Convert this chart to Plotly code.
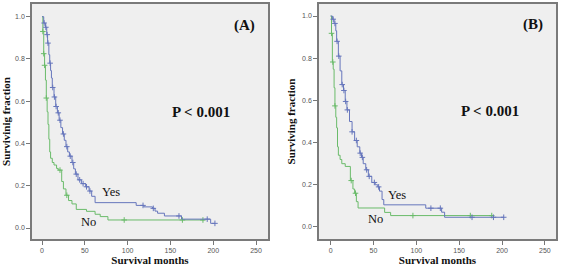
import numpy as np
import plotly.graph_objects as go

# ---------------- data ----------------
a_yes_t = [0, 2, 4, 5.5, 6.5, 8, 9, 10, 11, 12, 14, 16, 18, 20, 22, 24, 26, 28, 30, 32, 35, 37, 39, 42, 46, 51, 55, 58, 62, 110, 119, 129, 132, 135, 143, 163, 197, 202]
a_yes_s = [1.0, 0.97, 0.95, 0.915, 0.875, 0.82, 0.78, 0.745, 0.71, 0.665, 0.62, 0.575, 0.545, 0.51, 0.475, 0.445, 0.415, 0.385, 0.36, 0.34, 0.31, 0.28, 0.255, 0.228, 0.21, 0.195, 0.175, 0.15, 0.12, 0.107, 0.1, 0.093, 0.08, 0.07, 0.057, 0.042, 0.022, 0.022]
a_yes_cens = [2.5, 4.5, 6, 7, 9.5, 12.5, 14.5, 16.5, 19, 21, 25, 29, 33, 36, 40, 44, 48, 52, 56, 118, 130, 160, 193, 202]

a_no_t = [0, 1, 2, 3, 4, 5, 6, 7, 8, 9, 10, 12, 14, 17, 19, 23, 25, 28, 31, 35, 40, 52, 62, 68, 77, 190]
a_no_s = [1.0, 0.93, 0.825, 0.77, 0.70, 0.615, 0.55, 0.49, 0.42, 0.36, 0.33, 0.31, 0.298, 0.282, 0.274, 0.22, 0.185, 0.155, 0.13, 0.114, 0.088, 0.079, 0.065, 0.054, 0.038, 0.038]
a_no_cens = [1, 2, 3, 5, 21, 29, 96, 164, 188]

b_yes_t = [0, 2, 4, 6, 7, 9, 11, 13, 15, 17, 19, 22, 25, 28, 31, 34, 36, 38, 41, 44, 48, 52, 55, 57, 60, 62, 111, 129.5, 133, 202]
b_yes_s = [1.0, 0.985, 0.965, 0.93, 0.88, 0.81, 0.74, 0.675, 0.647, 0.595, 0.555, 0.5, 0.451, 0.41, 0.38, 0.35, 0.33, 0.30, 0.271, 0.24, 0.211, 0.2, 0.19, 0.17, 0.13, 0.105, 0.089, 0.07, 0.046, 0.046]
b_yes_cens = [3, 5, 7.5, 9.5, 13.5, 15.5, 17.5, 19.5, 25, 30, 34.5, 37, 42, 45, 51, 56, 117, 128, 165, 190, 202]

b_no_t = [0, 1, 2, 3, 4, 5, 6, 7, 8, 9, 11, 13, 17, 23, 26, 28, 30, 32, 63, 70, 190]
b_no_s = [1.0, 0.918, 0.782, 0.748, 0.66, 0.574, 0.52, 0.47, 0.38, 0.34, 0.32, 0.30, 0.287, 0.22, 0.18, 0.16, 0.12, 0.09, 0.069, 0.054, 0.054]
b_no_cens = [1, 2.5, 5, 24, 29, 96, 163, 188]

x_ticks = [0, 50, 100, 150, 200, 250]
y_ticks = [0.0, 0.2, 0.4, 0.6, 0.8, 1.0]
y_tick_text = ["0.0", "0.2", "0.4", "0.6", "0.8", "1.0"]

BLUE = "#6676bc"
GREEN = "#6abb6a"


def step_at(times, surv, t):
    idx = np.searchsorted(np.array(times), np.array(t), side="right") - 1
    return list(np.array(surv)[idx])


fig = go.Figure()

panels = [
    ("x", "y", a_yes_t, a_yes_s, a_yes_cens, a_no_t, a_no_s, a_no_cens),
    ("x2", "y2", b_yes_t, b_yes_s, b_yes_cens, b_no_t, b_no_s, b_no_cens),
]
for xa, ya, yt, ys, yc, nt, ns, nc in panels:
    for t, s, c, col in [(nt, ns, nc, GREEN), (yt, ys, yc, BLUE)]:
        fig.add_trace(go.Scatter(x=t, y=s, mode="lines", line=dict(color=col, width=1, shape="hv"),
                                 xaxis=xa, yaxis=ya, showlegend=False, hoverinfo="skip"))
        fig.add_trace(go.Scatter(x=c, y=step_at(t, s, c), mode="markers",
                                 marker=dict(symbol="cross-thin", size=4, line=dict(color=col, width=1)),
                                 xaxis=xa, yaxis=ya, showlegend=False, hoverinfo="skip"))

tickfont = dict(family="Liberation Sans, Arial, sans-serif", size=7, color="#555555")
titlefont = dict(family="Liberation Serif, Times New Roman, serif", size=11, color="#111111")
axis_common = dict(showgrid=False, zeroline=False, showline=True, mirror=True, linecolor="#7a7a7a",
                   linewidth=1.5, ticks="outside", ticklen=4, tickcolor="#777777", tickfont=tickfont,
                   automargin=False)

fig.update_layout(
    width=561, height=266, margin=dict(l=0, r=0, t=0, b=0, autoexpand=False),
    paper_bgcolor="white", plot_bgcolor="#efefef",
    xaxis=dict(domain=[32 / 561, 268 / 561], range=[-11.7, 264], tickvals=x_ticks, anchor="y",
               title=dict(text="<b>Survival months</b>", font=titlefont, standoff=2), **axis_common),
    yaxis=dict(domain=[27 / 266, 262 / 266], range=[-0.052, 1.06], tickvals=y_ticks, ticktext=y_tick_text,
               anchor="x", title=dict(text="<b>Survivinig fraction</b>", font=titlefont, standoff=4), **axis_common),
    xaxis2=dict(domain=[319 / 561, 556 / 561], range=[-13.6, 263], tickvals=x_ticks, anchor="y2",
                title=dict(text="<b>Survival months</b>", font=titlefont, standoff=2), **axis_common),
    yaxis2=dict(domain=[27 / 266, 262 / 266], range=[-0.057, 1.057], tickvals=y_ticks, ticktext=y_tick_text,
                anchor="x2", title=dict(text="<b>Surviving fraction</b>", font=titlefont, standoff=4), **axis_common),
)

serif = "Liberation Serif, Times New Roman, serif"
ann = [
    ("x", "y", 236, 0.96, "<b>(A)</b>", 15),
    ("x", "y", 186, 0.55, "<b>P < 0.001</b>", 15),
    ("x", "y", 80, 0.17, "Yes", 12.5),
    ("x", "y", 54, 0.03, "No", 12.5),
    ("x2", "y2", 236, 0.96, "<b>(B)</b>", 15),
    ("x2", "y2", 186, 0.55, "<b>P < 0.001</b>", 15),
    ("x2", "y2", 78, 0.15, "Yes", 12.5),
    ("x2", "y2", 52, 0.04, "No", 12.5),
]
for xr, yr, x, y, txt, sz in ann:
    fig.add_annotation(x=x, y=y, xref=xr, yref=yr, text=txt, showarrow=False,
                       font=dict(family=serif, size=sz, color="#111111"))

fig.write_html("out.html", config={"displayModeBar": False},
               post_script="document.body.style.margin='0px';document.body.style.overflow='hidden';")
